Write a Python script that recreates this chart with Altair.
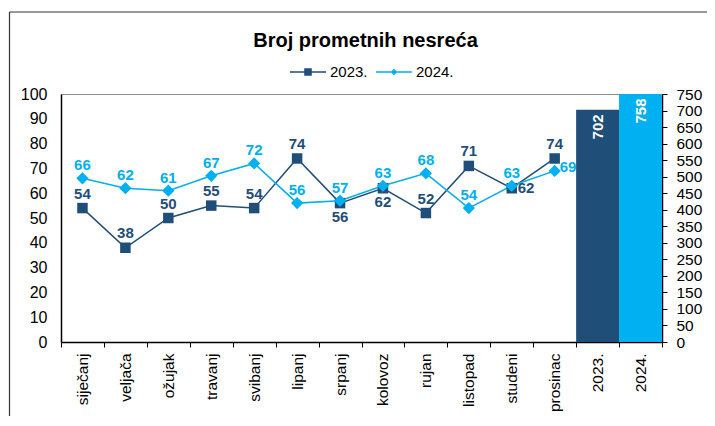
import altair as alt
import pandas as pd

# ---------------- data ----------------
months = ["siječanj", "veljača", "ožujak", "travanj", "svibanj", "lipanj",
          "srpanj", "kolovoz", "rujan", "listopad", "studeni", "prosinac"]
series_names = ["2023.", "2024."]
values_2023 = [54, 38, 50, 55, 54, 74, 56, 62, 52, 71, 62, 74]
values_2024 = [66, 62, 61, 67, 72, 56, 57, 63, 68, 54, 63, 69]
total_labels = ["2023.", "2024."]
total_values = [702, 758]
left_ticks = list(range(0, 101, 10))
right_ticks = list(range(0, 751, 50))

# ---------------- style ----------------
DARK = "#1F4E79"
LIGHT = "#00B0F0"
FONT = "Liberation Sans"

categories = months + total_labels
monthly = pd.DataFrame({
    "cat": months + months,
    "series": [series_names[0]] * len(months) + [series_names[1]] * len(months),
    "value": values_2023 + values_2024,
})
totals = pd.DataFrame({"cat": total_labels, "total": total_values})

x_enc = alt.X(
    "cat:N",
    scale=alt.Scale(domain=categories, paddingInner=0, paddingOuter=0),
    axis=alt.Axis(title=None, labelAngle=-90, labelFontSize=15.5, labelColor="black",
                  labelFont=FONT, labelPadding=6, tickBand="extent", tickSize=5,
                  tickColor="black", tickWidth=1, domainColor="black", domainWidth=1.5,
                  grid=False),
)

y_left = alt.Y(
    "value:Q",
    scale=alt.Scale(domain=[0, 100], nice=False),
    axis=alt.Axis(title=None, values=left_ticks, ticks=False, tickSize=0, labelPadding=14,
                  labelFontSize=16, labelColor="black", labelFont=FONT,
                  domainColor="black", domainWidth=1.5, grid=False),
)

y_right = alt.Y(
    "total:Q",
    scale=alt.Scale(domain=[0, 750], nice=False, clamp=True),
    axis=alt.Axis(title=None, orient="right", values=right_ticks, tickSize=5, tickColor="black",
                  labelPadding=9, labelFontSize=15.5, labelColor="black", labelFont=FONT,
                  domainColor="black", domainWidth=1.5, grid=False),
)

base = alt.Chart(monthly)
s23 = alt.datum.series == series_names[0]
s24 = alt.datum.series == series_names[1]

line23 = base.transform_filter(s23).mark_line(color=DARK, strokeWidth=1.5).encode(x=x_enc, y=y_left)
line24 = base.transform_filter(s24).mark_line(color=LIGHT, strokeWidth=1.5).encode(x=x_enc, y=y_left)
pts23 = base.transform_filter(s23).mark_point(shape="square", filled=True, size=110,
                                              color=DARK, opacity=1).encode(x=x_enc, y=y_left)
pts24 = base.transform_filter(s24).mark_point(shape="diamond", filled=True, size=150,
                                              color=LIGHT, opacity=1).encode(x=x_enc, y=y_left)

txt = dict(fontWeight="bold", fontSize=15, font=FONT)
below23 = ["srpanj", "kolovoz"]
right23 = ["studeni"]
right24 = ["prosinac"]

lab23_above = base.transform_filter(s23).transform_filter(
    ~alt.FieldOneOfPredicate(field="cat", oneOf=below23 + right23)
).mark_text(color=DARK, dy=-14.5, **txt).encode(x=x_enc, y=y_left, text="value:Q")
lab23_below = base.transform_filter(s23).transform_filter(
    alt.FieldOneOfPredicate(field="cat", oneOf=below23)
).mark_text(color=DARK, dy=14, **txt).encode(x=x_enc, y=y_left, text="value:Q")
lab23_right = base.transform_filter(s23).transform_filter(
    alt.FieldOneOfPredicate(field="cat", oneOf=right23)
).mark_text(color=DARK, align="left", dx=6, dy=0, **txt).encode(x=x_enc, y=y_left, text="value:Q")
lab24_above = base.transform_filter(s24).transform_filter(
    ~alt.FieldOneOfPredicate(field="cat", oneOf=right24)
).mark_text(color=LIGHT, dy=-13, **txt).encode(x=x_enc, y=y_left, text="value:Q")
lab24_right = base.transform_filter(s24).transform_filter(
    alt.FieldOneOfPredicate(field="cat", oneOf=right24)
).mark_text(color=LIGHT, align="left", dx=5, dy=-4, **txt).encode(x=x_enc, y=y_left, text="value:Q")

# legend (line + marker glyphs)
p23 = "M-1,-0.045H1V0.045H-1Z M-0.21,-0.21H0.21V0.21H-0.21Z"
p24 = "M-1,-0.045H1V0.045H-1Z M0,-0.18L0.18,0L0,0.18L-0.18,0Z"
legend = alt.Legend(orient="none", legendX=229, legendY=-40, direction="horizontal", title=None,
                    symbolSize=1296, symbolStrokeWidth=0, symbolOpacity=1, labelFontSize=15,
                    labelFont=FONT, labelColor="black", labelOffset=4, columnPadding=8, padding=0)
legend_layer = base.mark_point(filled=True, opacity=0).encode(
    x=x_enc, y=y_left,
    color=alt.Color("series:N", scale=alt.Scale(domain=series_names, range=[DARK, LIGHT]), legend=legend),
    shape=alt.Shape("series:N", scale=alt.Scale(domain=series_names, range=[p23, p24]), legend=legend),
)

left = alt.layer(line23, line24, pts23, pts24, lab23_above, lab23_below, lab23_right,
                 lab24_above, lab24_right, legend_layer)

bars = alt.Chart(totals).mark_bar().encode(
    x=x_enc, y=y_right,
    color=alt.condition(alt.datum.cat == total_labels[0], alt.value(DARK), alt.value(LIGHT)),
)
bar_labels = alt.Chart(totals).mark_text(
    angle=270, align="right", baseline="middle", dx=-4.5, color="white", **txt
).encode(x=x_enc, y=y_right, text="total:Q")
right = alt.layer(bars, bar_labels)

frame_data = alt.Data(values=[{"f": 0}])
frame_left = alt.Chart(frame_data).mark_rule(color="#333333", strokeWidth=1.2).encode(
    x=alt.value(-51.5), y=alt.value(-82), y2=alt.value(400))
frame_top = alt.Chart(frame_data).mark_rule(color="#333333", strokeWidth=1.2).encode(
    x=alt.value(-51.5), x2=alt.value(700), y=alt.value(-82))

chart = alt.layer(right, left, frame_left, frame_top).resolve_scale(
    y="independent"
).properties(
    width=601, height=248,
    title=alt.TitleParams("Broj prometnih nesreća", fontSize=20, fontWeight="bold", font=FONT,
                          color="black", anchor="middle", frame="group", baseline="alphabetic",
                          offset=-55.5, dx=4),
    padding={"left": 53, "top": 86, "right": 45, "bottom": 74},
    autosize=alt.AutoSizeParams(type="none"),
).configure(font=FONT).configure_view(stroke="#8c8c8c", strokeWidth=1)

chart.save("out.html", embed_options={"renderer": "svg", "actions": False})
